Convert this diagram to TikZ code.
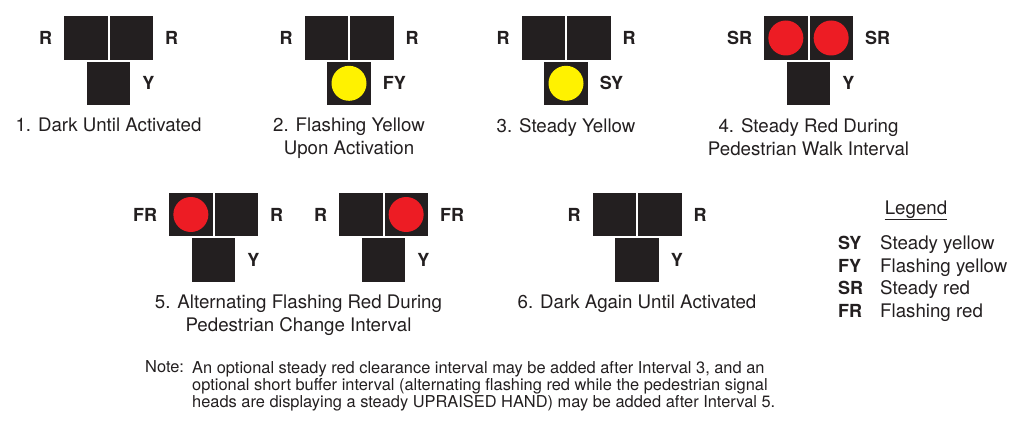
\documentclass[tikz,border=0pt]{standalone}
\usepackage{fontspec}
\setmainfont{TeX Gyre Heros}
\usetikzlibrary{positioning}
\definecolor{headblack}{HTML}{231F20}
\definecolor{lampred}{HTML}{ED1C24}
\definecolor{lampyellow}{HTML}{FFF200}
\begin{document}
\begin{tikzpicture}[x=1pt,y=-1pt,
	head/.style={rectangle,fill=headblack,draw=white,line width=0.8pt,minimum size=44.5pt,inner sep=0pt},
	lamp/.style={circle,minimum size=35pt,inner sep=0pt},
	tag/.style={font=\fontsize{18}{22}\selectfont\bfseries,text=headblack,inner sep=0pt},
	caption/.style={font=\fontsize{18.7}{23}\selectfont,text=headblack,align=center,inner sep=0pt},
	note/.style={font=\fontsize{16.4}{17.2}\selectfont,text=headblack,align=left,inner sep=0pt}]
		\useasboundingbox (0,0) rectangle (1023,428);

		% signal heads: seam x, row y, tags, lamp colours
		\foreach \n/\x/\y/\lt/\rt/\bt/\lf/\rf/\bf in {
			1/108.5/38/R/R/Y/none/none/none,
			2/349/38/R/R/FY/none/none/lampyellow,
			3/566/38/R/R/SY/none/none/lampyellow,
			4/808.5/38/SR/SR/Y/lampred/lampred/none,
			5a/213.5/214.5/FR/R/Y/lampred/none/none,
			5b/383.5/214.5/R/FR/Y/none/lampred/none,
			6/637/214.5/R/R/Y/none/none/none}
		{
			\node[head,anchor=east] (h\n-l) at (\x,\y) {};
			\node[head,right=0pt of h\n-l] (h\n-r) {};
			\node[head,anchor=north] (h\n-b) at (h\n-l.south east) {};
			\node[lamp,fill=\lf] (l\n-l) at (h\n-l) {};
			\node[lamp,fill=\rf] (l\n-r) at (h\n-r) {};
			\node[lamp,fill=\bf] (l\n-b) at (h\n-b) {};
			\node[tag,left=11pt of h\n-l] (t\n-l) {\lt};
			\node[tag,right=11pt of h\n-r] (t\n-r) {\rt};
			\node[tag,right=11pt of h\n-b] (t\n-b) {\bt};
		}

		\node[caption,below=12pt of h1-b] (c1) {1. Dark Until Activated};
		\node[caption,below=12pt of h2-b] (c2) {2. Flashing Yellow\\Upon Activation};
		\node[caption,below=12pt of h3-b] (c3) {3. Steady Yellow};
		\node[caption,below=12pt of h4-b] (c4) {4. Steady Red During\\Pedestrian Walk Interval};
		\path (h5a-b.south) -- (h5b-b.south)
			node[caption,midway,below=12pt] (c5) {5. Alternating Flashing Red During\\Pedestrian Change Interval};
		\node[caption,below=12pt of h6-b] (c6) {6. Dark Again Until Activated};

		% legend
		\node[caption,anchor=base] (leg) at (916,214) {Legend};
		\draw[headblack,line width=1.3pt] ([yshift=-1.5pt]leg.south west) -- ([yshift=-1.5pt]leg.south east);
		\foreach \k/\v [count=\i] in {SY/Steady yellow,FY/Flashing yellow,SR/Steady red,FR/Flashing red}
		{
			\node[tag,anchor=base west] (k\i) at (838,{226.8+22.7*\i}) {\k};
			\node[caption,anchor=base west] (v\i) at (880,{226.8+22.7*\i}) {\v};
		}

		\node[note,anchor=base west] (nt) at (145,372.7) {Note:};
		\node[note,anchor=north west] (nb) at (192,361) {An optional steady red clearance interval may be added after Interval 3, and an\\
			optional short buffer interval (alternating flashing red while the pedestrian signal\\
			heads are displaying a steady UPRAISED HAND) may be added after Interval 5.};
	\end{tikzpicture}
\end{document}
